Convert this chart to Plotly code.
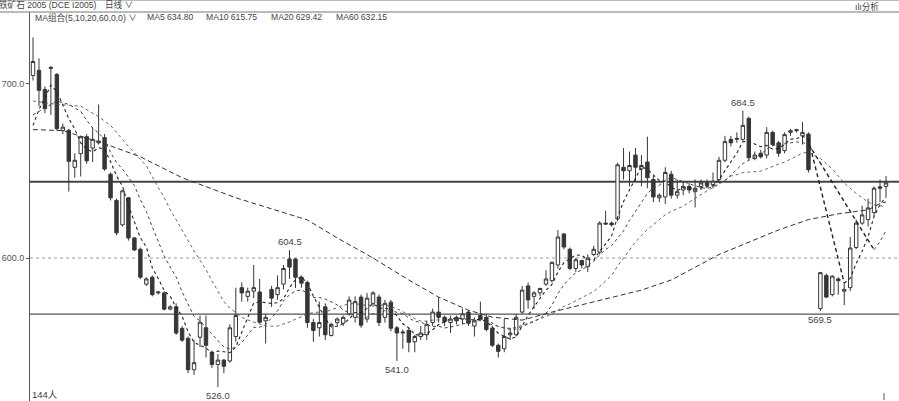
import plotly.graph_objects as go

# ---------------- data ----------------
idx = list(range(0, 131)) + list(range(132, 144))

opens = [704.6,707.6,696.6,708.6,705.2,673.0,673.2,652.0,659.8,669.5,663.0,666.0,669.0,648.0,633.0,619.0,634.5,611.5,605.0,585.0,
         589.0,580.0,580.0,570.7,572.0,559.7,554.0,536.0,554.6,560.0,546.0,539.0,541.5,541.0,555.0,583.0,578.0,581.0,580.5,564.0,
         582.0,579.0,585.0,599.4,599.4,589.0,586.0,563.0,560.0,572.0,555.6,563.0,562.6,568.0,566.0,577.6,565.0,574.0,577.6,566.0,
         574.7,560.0,557.0,558.6,552.0,555.0,556.0,563.0,569.0,566.0,563.0,566.0,565.0,569.0,561.0,567.0,566.0,559.8,550.0,548.0,
         556.0,556.0,569.0,584.0,578.0,580.0,585.0,587.0,596.0,613.8,605.0,594.0,598.5,595.0,602.0,603.4,620.0,620.0,622.4,652.0,
         650.0,659.0,651.0,655.0,645.0,634.5,635.0,648.0,636.0,639.0,641.0,638.0,641.0,643.0,642.0,645.0,656.0,668.0,668.0,668.0,
         680.0,657.0,660.0,659.0,672.0,666.0,661.5,672.0,673.0,670.0,671.0,
         571.0,590.0,579.0,588.0,581.0,583.0,606.0,620.0,622.0,626.0,640.8,641.0]
highs = [726.4,714.4,698.3,710.0,706.0,677.0,674.0,660.0,670.0,671.0,675.0,688.0,671.0,649.0,634.0,639.0,635.0,612.0,606.0,589.0,
         590.0,581.0,581.0,573.0,574.0,561.0,555.0,553.0,567.0,567.0,547.0,545.0,542.0,562.0,583.0,586.0,583.0,596.0,588.0,568.0,
         584.0,590.0,596.0,604.5,600.0,590.0,587.0,565.0,575.0,574.0,563.0,566.0,567.0,578.0,578.0,579.0,580.0,581.0,579.0,576.0,
         576.0,561.0,559.0,560.0,556.0,561.0,564.0,571.0,577.6,567.0,567.0,567.0,571.0,570.0,566.0,575.0,568.0,561.0,551.0,565.0,
         560.0,568.0,584.0,586.0,581.0,583.0,593.0,598.0,616.0,614.0,606.0,600.0,599.0,602.0,607.0,621.0,627.0,621.0,654.6,663.0,
         661.0,663.0,659.0,669.5,647.0,637.0,652.0,650.0,645.0,644.0,643.0,645.0,645.0,645.0,649.0,658.0,670.0,670.0,672.0,684.5,
         681.0,661.0,662.0,675.0,673.0,667.0,672.0,674.0,674.0,678.0,672.0,
         592.0,591.0,590.0,589.0,586.0,612.0,622.0,630.0,634.0,641.0,645.0,647.0]
lows = [701.7,686.8,683.0,682.0,673.0,671.0,638.1,646.0,646.7,654.0,655.0,665.0,650.0,633.0,613.0,618.0,610.0,604.0,588.0,584.0,
        578.0,579.0,570.0,570.0,556.0,552.0,534.0,533.0,549.0,543.0,537.0,526.0,534.0,540.0,552.0,575.0,575.0,577.0,562.6,551.0,
        572.0,576.0,582.0,588.0,582.8,583.0,560.0,552.0,555.0,553.0,555.0,561.0,561.0,567.0,563.0,560.0,563.0,572.0,561.0,563.0,
        558.0,541.0,548.0,546.0,546.0,553.0,553.0,561.0,563.0,561.0,557.0,562.0,562.0,561.0,555.0,564.0,558.0,549.0,543.0,546.0,
        553.0,555.0,568.0,571.0,571.0,578.0,584.0,586.0,594.0,605.0,593.0,592.0,594.0,592.0,601.0,602.0,619.0,618.0,621.0,645.0,
        641.0,644.0,641.0,640.0,632.0,632.0,631.0,634.0,634.0,636.0,637.0,629.0,639.0,640.0,640.0,643.0,655.0,664.0,666.0,667.0,
        656.0,656.0,657.0,657.0,664.0,658.0,660.0,670.0,672.0,665.0,649.0,
        569.5,577.0,578.0,579.0,573.0,581.0,605.0,619.0,618.0,624.0,632.0,635.0]
closes = [712.6,696.1,685.6,709.2,674.1,675.0,655.4,656.0,669.5,655.7,668.0,667.0,651.0,634.5,614.4,638.5,611.5,604.6,589.0,588.0,
          579.0,580.5,570.7,572.0,557.0,552.9,536.0,540.0,563.2,550.0,539.0,541.5,538.0,560.0,567.0,580.0,581.0,583.0,563.2,566.0,
          577.0,583.0,594.0,594.8,589.0,585.6,563.0,558.5,563.0,556.0,562.0,565.0,566.0,575.9,575.0,561.5,577.0,580.0,563.0,574.0,
          559.8,557.0,557.5,551.7,555.0,557.0,562.0,569.0,566.0,563.5,565.0,564.0,568.0,562.6,564.0,565.0,559.0,550.0,546.5,555.0,
          557.0,566.0,581.6,576.0,580.0,582.5,588.0,597.5,612.0,606.3,594.0,599.0,596.0,600.0,605.0,620.0,619.5,619.0,653.4,650.0,
          653.0,652.0,653.0,646.0,635.0,636.0,649.0,636.0,638.0,641.0,639.0,640.0,643.0,641.5,644.0,656.0,666.7,666.0,668.5,676.0,
          657.5,659.0,658.0,672.0,665.0,660.0,670.7,673.0,673.5,672.0,650.6,
          591.6,577.6,589.6,587.0,582.0,605.7,620.0,624.7,628.7,640.0,640.0,643.0]

# moving averages (index, value)
ma5_idx = list(range(0, 131)) + list(range(136, 144))
ma5_vals = [676,685,692,699,695.5,688,679.9,673.9,666,662.3,660.9,663.2,662.2,655.2,647,641.1,630,620.7,611.6,606.3,
            594.4,588.2,581.4,578,571.8,566.6,557.7,551.6,549.8,548.4,545.6,546.7,546.3,545.7,549.1,557.3,565.2,574.2,574.8,574.6,
            574,574.4,576.6,583,587.6,589.3,585.3,578.2,571.8,565.2,560.5,560.9,562.4,565,568.8,568.7,571.1,573.9,571.3,571.1,
            570.8,566.8,562.3,560,556.2,555.6,556.6,558.9,561.8,563.5,565.1,565.5,565.3,564.6,564.7,564.7,563.7,560.1,556.9,555.1,
            553.5,554.9,561.2,567.1,572.1,577.2,581.6,584.8,592,597.3,599.6,601.8,601.5,599.1,598.8,604,608.1,612.7,623.4,632.4,
            639,645.5,652.3,650.8,647.8,644.4,643.8,640.4,638.8,640,640.6,638.8,640.2,640.9,641.5,644.9,650.2,654.8,660.2,666.6,
            666.9,665.4,663.8,664.5,662.3,662.8,665.1,668.1,668.4,669.8,668,
            585.6,588.4,596.9,603.9,612.2,623.8,630.7,634.8]
ma10_idx = [0, 2, 4, 6, 8] + list(range(9, 131)) + [141, 142, 143]
ma10_vals = [682,686,690,688,684,
             678.9,674.5,671.6,668.1,660.6,654.7,651,646.6,641.5,633.4,626.7,617.8,609.1,601.1,594.8,589.1,580.5,573,566.5,563.9,
             560.1,556.1,552.2,549,547.8,548.8,551.5,556,560.3,560.3,561.9,565.7,569.8,575.4,578.9,581.1,581.7,579.9,577.4,577.4,
             576.4,574.9,573.1,570.3,568.4,567,564.6,566,568.1,568.1,569.9,569.7,568.9,568.1,565.7,563.7,563.2,561.7,560.6,560.9,
             559.9,560.4,561.1,562.1,563.2,564.1,564.9,564.6,562.7,560.8,559.9,559.1,559.3,560.7,562,563.6,565.4,568.3,573,579.6,
             584.7,588.4,591.7,593.1,595.5,598,601.8,604.9,607.1,611.2,615.6,621.5,626.8,632.5,637.1,640.1,641.7,644.6,646.3,644.8,
             643.9,642.5,641.3,640.3,639.9,640.8,642.8,644.5,647.5,650.6,654.1,655.9,657.8,659.3,662.4,664.5,664.9,665.3,666,666.5,
             666.1,665.4,
             604.7,609.5,615.75]
ma20_idx = [0, 2, 4, 8, 11, 13, 16] + list(range(19, 131)) + [132, 134, 136, 138, 140, 141, 142, 143]
ma20_vals = [690,689,688,687,681,676,664,
             652.8,646.1,640.3,634.6,627.7,621.9,615.8,609.8,604,598.7,593.4,586.9,580.7,575,571.3,568.9,566,564.5,563.4,562.1,
             561,560.9,561,562.2,563.3,564.9,566.6,567.9,568.8,568.8,569.1,570.3,571.5,572.9,573.6,574,573.1,572.9,572.8,572.8,
             573.2,572.3,571,569.2,567,565.3,563.9,563.8,564.4,564.5,564.9,565,565,565.1,564.4,563.9,564.1,563.2,561.7,560.8,
             559.9,559.7,560.2,561.4,562.6,563.9,565.1,566.4,567.9,570.2,572.3,573.7,575.5,576.9,578.8,580.8,583.6,586.6,590,595.4,
             600.1,604.9,609.2,612.8,616.3,619.1,621.7,624.8,626.7,628,629.7,632,634,636.4,638.5,640.4,642.2,644.6,647,647.7,
             649,649.2,649.6,649.8,651.1,652.6,653.8,654.9,656.7,658.5,660.1,660.7,
             657,651,643,637,632,630.5,629.8,629.42]
ma60_idx = [0, 5, 12, 18, 25, 34, 46, 51, 57, 63, 68, 73, 77, 82, 87, 93, 102, 107, 115, 125, 130, 135, 140, 142, 143]
ma60_vals = [673.6,673,665.5,658,646,634.5,621.8,611.5,600,587.4,577.6,570.1,566.1,564.4,569,574.1,581.6,587.4,602,616.1,
             622,625.3,627.6,631.2,632.15]

hlines = [643.7, 567.8]
grid_levels = [600.0]
ytick_vals = [600.0, 700.0]

mark_idx = [43, 31, 61, 119, 132]
mark_vals = [604.5, 526.0, 541.0, 684.5, 569.5]
mark_side = ["above", "below", "below", "above", "below"]

# ---------------- figure ----------------
W, H = 899, 401
L, T = 30, 12
PW, PH = W - L, H - T
FONT = "Liberation Sans, Arial, Noto Sans CJK SC, sans-serif"
INK = "#363636"

fig = go.Figure()

fig.add_trace(go.Candlestick(
    x=idx, open=opens, high=highs, low=lows, close=closes,
    increasing=dict(line=dict(color=INK, width=1), fillcolor="white"),
    decreasing=dict(line=dict(color=INK, width=1), fillcolor=INK),
    whiskerwidth=0, hoverinfo="skip", showlegend=False))

def add_line(xs, ys, dash, color, width):
    fig.add_trace(go.Scatter(x=xs, y=ys, mode="lines", hoverinfo="skip", showlegend=False,
                             line=dict(color=color, width=width, dash=dash, shape="linear")))

# split MA5 / MA10 at the contract roll and bridge with a dashed segment
def split_line(xs, ys, cut, dash, color, width):
    pre_x = [x for x in xs if x <= cut]
    pre_y = ys[:len(pre_x)]
    post_x = xs[len(pre_x):]
    post_y = ys[len(pre_x):]
    add_line(pre_x, pre_y, dash, color, width)
    add_line(post_x, post_y, dash, color, width)
    add_line([pre_x[-1], post_x[0]], [pre_y[-1], post_y[0]], "4px,3px", "#222", 1.4)

split_line(ma5_idx, ma5_vals, 130, "dot", "#222", 1.1)
split_line(ma10_idx, ma10_vals, 130, "dot", "#444", 1.0)
add_line(ma20_idx, ma20_vals, "dot", "#555", 0.9)
add_line(ma60_idx, ma60_vals, "5px,3px", "#333", 1.0)

shapes = []
shapes.append(dict(type="line", xref="paper", yref="y", x0=0, x1=1, y0=hlines[0], y1=hlines[0],
                   line=dict(color="#444", width=2.2), layer="below"))
shapes.append(dict(type="line", xref="paper", yref="y", x0=0, x1=1, y0=hlines[1], y1=hlines[1],
                   line=dict(color="#555", width=1.2), layer="below"))
for g in grid_levels:
    shapes.append(dict(type="line", xref="paper", yref="y", x0=0, x1=1, y0=g, y1=g,
                       line=dict(color="#999", width=1, dash="dot"), layer="below"))
# header separator and top border
shapes.append(dict(type="line", xref="paper", yref="paper", x0=-L / PW, x1=1, y0=1, y1=1,
                   line=dict(color="#777", width=1)))
shapes.append(dict(type="line", xref="paper", yref="paper", x0=-L / PW, x1=1, y0=(H - 0.5) / PH, y1=(H - 0.5) / PH,
                   line=dict(color="#bbb", width=1)))
# small cursor tick bottom right
shapes.append(dict(type="line", xref="paper", yref="paper", x0=(884 - L) / PW, x1=(884 - L) / PW,
                   y0=(H - 400) / PH, y1=(H - 393) / PH, line=dict(color="#555", width=1)))

ann = []
def px_ann(text, px, py, anchor="left", size=10, color="#444"):
    ann.append(dict(text=text, xref="paper", yref="paper", x=(px - L) / PW, y=(H - py) / PH,
                    xanchor=anchor, yanchor="middle", showarrow=False,
                    font=dict(family=FONT, size=size, color=color)))

px_ann("铁矿石 2005 (DCE I2005)", -3, 5, size=8.6)
px_ann("日线 ∨", 103, 5, size=8.6)
px_ann("MA组合(5,10,20,60,0,0) ∨", 33, 17, size=8.6)
px_ann(f"MA5 {ma5_vals[-1]:.2f}", 145, 17, size=8.6)
px_ann(f"MA10 {ma10_vals[-1]:.2f}", 204, 17, size=8.6)
px_ann(f"MA20 {ma20_vals[-1]:.2f}", 269, 17, size=8.6)
px_ann(f"MA60 {ma60_vals[-1]:.2f}", 334, 17, size=8.6)
px_ann("ılı分析", 881, 6, anchor="right", size=8.6)
px_ann("144人", 30, 394, size=9.5)

for i, v, s in zip(mark_idx, mark_vals, mark_side):
    ann.append(dict(text=f"{v:.1f}", x=i, y=v, xref="x", yref="y", showarrow=False,
                    xanchor="center", yanchor="bottom" if s == "above" else "top",
                    yshift=1 if s == "above" else -1,
                    font=dict(family=FONT, size=9.5, color="#444")))

SP = 5.965
x_left = (L - 33) / SP
x_right = (W - 33) / SP
Y700, PXU = 83.5, 1.745
y_top = 700 + (Y700 - T) / PXU
y_bot = 700 - (H - Y700) / PXU

fig.update_layout(
    width=W, height=H, margin=dict(l=L, r=0, t=T, b=0),
    paper_bgcolor="white", plot_bgcolor="white",
    showlegend=False, boxgap=0.18,
    shapes=shapes, annotations=ann,
    xaxis=dict(range=[x_left, x_right], showgrid=False, zeroline=False, showticklabels=False,
               showline=False, rangeslider=dict(visible=False), fixedrange=True),
    yaxis=dict(range=[y_bot, y_top], showgrid=False, zeroline=False, showline=True,
               linecolor="#555", linewidth=1, ticks="outside", ticklen=3, tickcolor="#555",
               tickvals=ytick_vals, ticktext=[f"{v:.1f}" for v in ytick_vals],
               tickfont=dict(family=FONT, size=9, color="#555"), fixedrange=True),
)

fig.write_html("out.html", config={"displayModeBar": False},
               post_script="document.body.style.margin='0px';document.body.style.overflow='hidden';")
